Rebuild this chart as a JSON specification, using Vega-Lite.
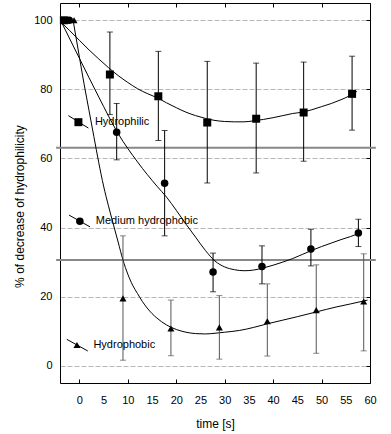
{
  "$schema": "https://vega.github.io/schema/vega-lite/v6.json",
  "width": 310,
  "height": 380,
  "autosize": {"type": "none"},
  "padding": {"left": 60, "top": 3, "right": 21, "bottom": 51},
  "background": "white",
  "config": {
    "view": {"stroke": null},
    "font": "Liberation Sans",
    "axis": {
      "labelFont": "Liberation Sans",
      "titleFont": "Liberation Sans",
      "labelFontSize": 11,
      "titleFontSize": 12,
      "titleFontWeight": "normal",
      "labelColor": "black",
      "titleColor": "black",
      "domainColor": "black",
      "tickColor": "black",
      "grid": false
    }
  },
  "datasets": {
    "points": [
      {"series": "Hydrophilic", "t": -3.2, "v": 100, "lo": null, "hi": null},
      {"series": "Hydrophilic", "t": 6.3, "v": 84.3, "lo": 72.7, "hi": 96.6},
      {"series": "Hydrophilic", "t": 16.3, "v": 78.0, "lo": 65.2, "hi": 91.0},
      {"series": "Hydrophilic", "t": 26.4, "v": 70.4, "lo": 52.9, "hi": 88.1},
      {"series": "Hydrophilic", "t": 36.5, "v": 71.5, "lo": 55.8, "hi": 87.6},
      {"series": "Hydrophilic", "t": 46.3, "v": 73.3, "lo": 59.2, "hi": 87.9},
      {"series": "Hydrophilic", "t": 56.3, "v": 78.7, "lo": 68.2, "hi": 89.6},
      {"series": "Medium hydrophobic", "t": -2.1, "v": 100, "lo": null, "hi": null},
      {"series": "Medium hydrophobic", "t": 7.7, "v": 67.6, "lo": 59.6, "hi": 75.9},
      {"series": "Medium hydrophobic", "t": 17.6, "v": 52.8, "lo": 37.6, "hi": 68.1},
      {"series": "Medium hydrophobic", "t": 27.6, "v": 27.1, "lo": 21.4, "hi": 32.6},
      {"series": "Medium hydrophobic", "t": 37.7, "v": 28.7, "lo": 23.7, "hi": 34.7},
      {"series": "Medium hydrophobic", "t": 47.8, "v": 33.8, "lo": 28.9, "hi": 39.5},
      {"series": "Medium hydrophobic", "t": 57.6, "v": 38.4, "lo": 34.5, "hi": 42.4},
      {"series": "Hydrophobic", "t": -1.1, "v": 100, "lo": null, "hi": null},
      {"series": "Hydrophobic", "t": 9.0, "v": 19.5, "lo": 1.6, "hi": 37.6},
      {"series": "Hydrophobic", "t": 18.9, "v": 10.8, "lo": 2.9, "hi": 19.0},
      {"series": "Hydrophobic", "t": 28.9, "v": 11.1, "lo": 1.9, "hi": 20.3},
      {"series": "Hydrophobic", "t": 38.8, "v": 12.9, "lo": 2.8, "hi": 23.7},
      {"series": "Hydrophobic", "t": 48.9, "v": 16.1, "lo": 3.6, "hi": 29.2},
      {"series": "Hydrophobic", "t": 58.7, "v": 18.6, "lo": 4.3, "hi": 32.4}
    ],
    "curves": [
      {"series": "Hydrophilic", "t": -3.6, "v": 99.2},
      {"series": "Hydrophilic", "t": -2, "v": 97.0},
      {"series": "Hydrophilic", "t": 0, "v": 94.2},
      {"series": "Hydrophilic", "t": 2, "v": 91.4},
      {"series": "Hydrophilic", "t": 4, "v": 88.8},
      {"series": "Hydrophilic", "t": 6, "v": 86.3},
      {"series": "Hydrophilic", "t": 8, "v": 84.0},
      {"series": "Hydrophilic", "t": 10, "v": 82.0},
      {"series": "Hydrophilic", "t": 12, "v": 80.2},
      {"series": "Hydrophilic", "t": 14, "v": 78.8},
      {"series": "Hydrophilic", "t": 16, "v": 77.6},
      {"series": "Hydrophilic", "t": 18, "v": 76.1},
      {"series": "Hydrophilic", "t": 20, "v": 74.7},
      {"series": "Hydrophilic", "t": 22, "v": 73.4},
      {"series": "Hydrophilic", "t": 24, "v": 72.4},
      {"series": "Hydrophilic", "t": 26, "v": 71.6},
      {"series": "Hydrophilic", "t": 28, "v": 71.0},
      {"series": "Hydrophilic", "t": 30, "v": 70.7},
      {"series": "Hydrophilic", "t": 32, "v": 70.6},
      {"series": "Hydrophilic", "t": 34, "v": 70.6},
      {"series": "Hydrophilic", "t": 36, "v": 70.9},
      {"series": "Hydrophilic", "t": 38, "v": 71.3},
      {"series": "Hydrophilic", "t": 40, "v": 71.8},
      {"series": "Hydrophilic", "t": 42, "v": 72.4},
      {"series": "Hydrophilic", "t": 44, "v": 73.0},
      {"series": "Hydrophilic", "t": 46, "v": 73.4},
      {"series": "Hydrophilic", "t": 48, "v": 74.1},
      {"series": "Hydrophilic", "t": 50, "v": 75.0},
      {"series": "Hydrophilic", "t": 52, "v": 75.9},
      {"series": "Hydrophilic", "t": 54, "v": 77.0},
      {"series": "Hydrophilic", "t": 56, "v": 78.3},
      {"series": "Hydrophilic", "t": 57.3, "v": 79.4},
      {"series": "Medium hydrophobic", "t": -3.6, "v": 99.2},
      {"series": "Medium hydrophobic", "t": 0, "v": 89.0},
      {"series": "Medium hydrophobic", "t": 4, "v": 77.8},
      {"series": "Medium hydrophobic", "t": 8, "v": 67.2},
      {"series": "Medium hydrophobic", "t": 12, "v": 59.0},
      {"series": "Medium hydrophobic", "t": 16, "v": 52.0},
      {"series": "Medium hydrophobic", "t": 18, "v": 48.8},
      {"series": "Medium hydrophobic", "t": 20, "v": 45.0},
      {"series": "Medium hydrophobic", "t": 22, "v": 41.0},
      {"series": "Medium hydrophobic", "t": 24, "v": 37.2},
      {"series": "Medium hydrophobic", "t": 26, "v": 33.4},
      {"series": "Medium hydrophobic", "t": 28, "v": 30.3},
      {"series": "Medium hydrophobic", "t": 30, "v": 28.6},
      {"series": "Medium hydrophobic", "t": 32, "v": 27.8},
      {"series": "Medium hydrophobic", "t": 34, "v": 27.5},
      {"series": "Medium hydrophobic", "t": 36, "v": 27.7},
      {"series": "Medium hydrophobic", "t": 38, "v": 28.3},
      {"series": "Medium hydrophobic", "t": 40, "v": 29.1},
      {"series": "Medium hydrophobic", "t": 42, "v": 30.0},
      {"series": "Medium hydrophobic", "t": 44, "v": 31.0},
      {"series": "Medium hydrophobic", "t": 46, "v": 32.2},
      {"series": "Medium hydrophobic", "t": 48, "v": 33.4},
      {"series": "Medium hydrophobic", "t": 50, "v": 34.5},
      {"series": "Medium hydrophobic", "t": 52, "v": 35.5},
      {"series": "Medium hydrophobic", "t": 54, "v": 36.5},
      {"series": "Medium hydrophobic", "t": 56, "v": 37.4},
      {"series": "Medium hydrophobic", "t": 58.2, "v": 38.6},
      {"series": "Hydrophobic", "t": -1.2, "v": 99.2},
      {"series": "Hydrophobic", "t": 0, "v": 89.4},
      {"series": "Hydrophobic", "t": 1, "v": 81.3},
      {"series": "Hydrophobic", "t": 2, "v": 73.8},
      {"series": "Hydrophobic", "t": 3, "v": 66.3},
      {"series": "Hydrophobic", "t": 4, "v": 58.8},
      {"series": "Hydrophobic", "t": 5, "v": 52.0},
      {"series": "Hydrophobic", "t": 6, "v": 46.3},
      {"series": "Hydrophobic", "t": 7, "v": 41.0},
      {"series": "Hydrophobic", "t": 8, "v": 35.8},
      {"series": "Hydrophobic", "t": 9, "v": 30.6},
      {"series": "Hydrophobic", "t": 10, "v": 26.5},
      {"series": "Hydrophobic", "t": 11, "v": 23.3},
      {"series": "Hydrophobic", "t": 12, "v": 20.9},
      {"series": "Hydrophobic", "t": 13, "v": 18.6},
      {"series": "Hydrophobic", "t": 14, "v": 16.7},
      {"series": "Hydrophobic", "t": 15, "v": 15.1},
      {"series": "Hydrophobic", "t": 16, "v": 13.8},
      {"series": "Hydrophobic", "t": 18, "v": 11.8},
      {"series": "Hydrophobic", "t": 20, "v": 10.5},
      {"series": "Hydrophobic", "t": 22, "v": 9.7},
      {"series": "Hydrophobic", "t": 24, "v": 9.3},
      {"series": "Hydrophobic", "t": 26, "v": 9.2},
      {"series": "Hydrophobic", "t": 28, "v": 9.4},
      {"series": "Hydrophobic", "t": 30, "v": 9.7},
      {"series": "Hydrophobic", "t": 33, "v": 10.2},
      {"series": "Hydrophobic", "t": 36, "v": 11.1},
      {"series": "Hydrophobic", "t": 39, "v": 12.2},
      {"series": "Hydrophobic", "t": 42, "v": 13.2},
      {"series": "Hydrophobic", "t": 45, "v": 14.2},
      {"series": "Hydrophobic", "t": 49, "v": 15.6},
      {"series": "Hydrophobic", "t": 53, "v": 17.0},
      {"series": "Hydrophobic", "t": 56, "v": 17.9},
      {"series": "Hydrophobic", "t": 59.5, "v": 19.0}
    ],
    "refs": [
      {"y": 63.1, "x1": -4.8, "x2": 61.2},
      {"y": 30.6, "x1": -4.8, "x2": 61.2}
    ],
    "annot": [
      {"series": "Hydrophilic", "x1": -2.27, "y1": 72.4, "x2": 1.86, "y2": 68.8, "mx": -0.2, "my": 70.5, "tx": 3.2},
      {"series": "Medium hydrophobic", "x1": -2.13, "y1": 43.6, "x2": 2.2, "y2": 40.2, "mx": 0.1, "my": 41.8, "tx": 3.4},
      {"series": "Hydrophobic", "x1": -2.6, "y1": 7.65, "x2": 1.74, "y2": 4.26, "mx": -0.5, "my": 6.0, "tx": 2.9}
    ]
  },
  "resolve": {"axis": {"x": "independent", "y": "independent"}},
  "layer": [
    {
      "data": {"name": "refs"},
      "mark": {"type": "rule", "color": "#888888", "strokeWidth": 2},
      "encoding": {
        "x": {
          "field": "x1", "type": "quantitative",
          "scale": {"domain": [-4, 60], "nice": false, "zero": false},
          "axis": {
            "orient": "bottom",
            "title": "time [s]",
            "values": [0, 5, 10, 15, 20, 25, 30, 35, 40, 45, 50, 55, 60],
            "tickSize": -4,
            "tickOpacity": {"condition": {"test": "datum.value % 10 !== 0", "value": 0}, "value": 1},
            "labelPadding": 15,
            "labelFlush": false,
            "titleY": 35,
            "titleBaseline": "top"
          }
        },
        "x2": {"field": "x2"},
        "y": {
          "field": "y", "type": "quantitative",
          "scale": {"domain": [-5, 105], "nice": false, "zero": false},
          "axis": {
            "orient": "left",
            "title": "% of decrease of hydrophilicity",
            "values": [0, 20, 40, 60, 80, 100],
            "ticks": false,
            "labelPadding": 8,
            "grid": true,
            "gridColor": "#b8b8b8",
            "gridDash": [5, 2],
            "gridWidth": 1,
            "titleX": -34,
            "titleY": 203
          }
        }
      }
    },
    {
      "data": {"name": "curves"},
      "mark": {"type": "line", "color": "black", "strokeWidth": 1, "interpolate": "monotone"},
      "encoding": {
        "x": {
          "field": "t", "type": "quantitative",
          "axis": {"orient": "top", "title": null, "labels": false, "values": [0, 10, 20, 30, 40, 50, 60], "tickSize": -4}
        },
        "y": {
          "field": "v", "type": "quantitative",
          "axis": {"orient": "right", "title": null, "labels": false, "values": [0, 20, 40, 60, 80, 100], "tickSize": -4}
        },
        "detail": {"field": "series"}
      }
    },
    {
      "data": {"name": "points"},
      "transform": [{"filter": "datum.lo != null"}],
      "mark": {"type": "rule", "strokeWidth": 1},
      "encoding": {
        "x": {"field": "t", "type": "quantitative", "axis": null},
        "y": {"field": "lo", "type": "quantitative", "axis": null},
        "y2": {"field": "hi"},
        "color": {"field": "series", "type": "nominal", "legend": null,
          "scale": {"domain": ["Hydrophilic", "Medium hydrophobic", "Hydrophobic"], "range": ["#000000", "#000000", "#555555"]}}
      }
    },
    {
      "data": {"name": "points"},
      "transform": [{"filter": "datum.lo != null"}],
      "mark": {"type": "tick", "orient": "horizontal", "size": 6, "thickness": 1},
      "encoding": {
        "x": {"field": "t", "type": "quantitative", "axis": null},
        "y": {"field": "lo", "type": "quantitative", "axis": null},
        "color": {"field": "series", "type": "nominal", "legend": null}
      }
    },
    {
      "data": {"name": "points"},
      "transform": [{"filter": "datum.lo != null"}],
      "mark": {"type": "tick", "orient": "horizontal", "size": 6, "thickness": 1},
      "encoding": {
        "x": {"field": "t", "type": "quantitative", "axis": null},
        "y": {"field": "hi", "type": "quantitative", "axis": null},
        "color": {"field": "series", "type": "nominal", "legend": null}
      }
    },
    {
      "data": {"name": "points"},
      "mark": {"type": "point", "filled": true, "opacity": 1, "color": "black"},
      "encoding": {
        "x": {"field": "t", "type": "quantitative", "axis": null},
        "y": {"field": "v", "type": "quantitative", "axis": null},
        "shape": {"field": "series", "type": "nominal", "legend": null,
          "scale": {"domain": ["Hydrophilic", "Medium hydrophobic", "Hydrophobic"], "range": ["square", "circle", "triangle-up"]}},
        "size": {"field": "series", "type": "nominal", "legend": null,
          "scale": {"domain": ["Hydrophilic", "Medium hydrophobic", "Hydrophobic"], "range": [64, 49, 42]}}
      }
    },
    {
      "data": {"name": "annot"},
      "mark": {"type": "rule", "color": "black", "strokeWidth": 1},
      "encoding": {
        "x": {"field": "x1", "type": "quantitative", "axis": null},
        "y": {"field": "y1", "type": "quantitative", "axis": null},
        "x2": {"field": "x2"},
        "y2": {"field": "y2"}
      }
    },
    {
      "data": {"name": "annot"},
      "mark": {"type": "point", "filled": true, "opacity": 1, "color": "black"},
      "encoding": {
        "x": {"field": "mx", "type": "quantitative", "axis": null},
        "y": {"field": "my", "type": "quantitative", "axis": null},
        "shape": {"field": "series", "type": "nominal", "legend": null},
        "size": {"field": "series", "type": "nominal", "legend": null}
      }
    },
    {
      "data": {"name": "annot"},
      "mark": {"type": "text", "align": "left", "baseline": "middle", "font": "Liberation Sans", "fontSize": 11, "color": "black"},
      "encoding": {
        "x": {"field": "tx", "type": "quantitative", "axis": null},
        "y": {"field": "my", "type": "quantitative", "axis": null},
        "text": {"field": "series"}
      }
    }
  ]
}
